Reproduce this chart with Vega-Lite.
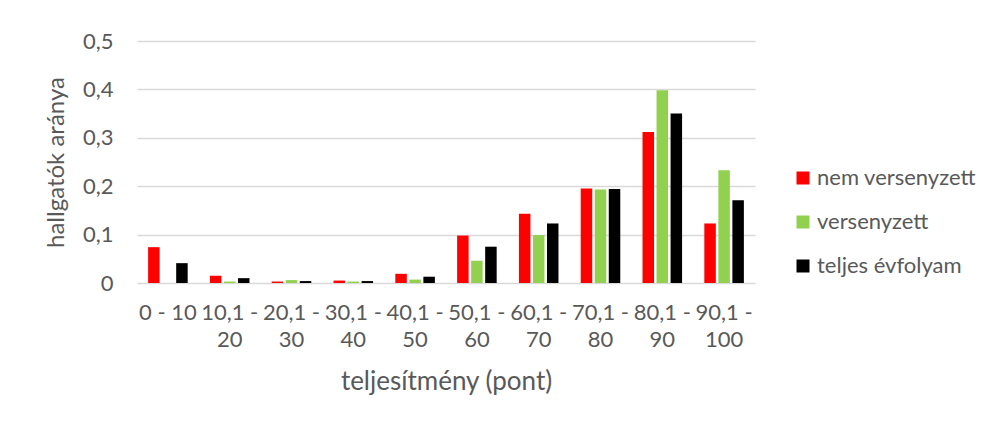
{
  "$schema": "https://vega.github.io/schema/vega-lite/v6.json",
  "autosize": {"type": "none"},
  "padding": {"left": 137, "top": 41, "right": 239, "bottom": 140},
  "width": 618,
  "height": 242,
  "background": "white",
  "config": {
    "font": "Lato",
    "view": {"stroke": null},
    "axis": {"labelColor": "#595959", "titleColor": "#595959", "labelFont": "Lato", "titleFont": "Lato", "titleFontWeight": "normal"},
    "legend": {"labelColor": "#595959", "labelFont": "Lato"}
  },
  "data": {
    "values": [
      {"kat": "0 - 10", "csoport": "nem versenyzett", "arany": 0.074},
      {"kat": "0 - 10", "csoport": "versenyzett", "arany": 0.0},
      {"kat": "0 - 10", "csoport": "teljes évfolyam", "arany": 0.041},
      {"kat": "10,1 - 20", "csoport": "nem versenyzett", "arany": 0.015},
      {"kat": "10,1 - 20", "csoport": "versenyzett", "arany": 0.003},
      {"kat": "10,1 - 20", "csoport": "teljes évfolyam", "arany": 0.010},
      {"kat": "20,1 - 30", "csoport": "nem versenyzett", "arany": 0.003},
      {"kat": "20,1 - 30", "csoport": "versenyzett", "arany": 0.006},
      {"kat": "20,1 - 30", "csoport": "teljes évfolyam", "arany": 0.004},
      {"kat": "30,1 - 40", "csoport": "nem versenyzett", "arany": 0.005},
      {"kat": "30,1 - 40", "csoport": "versenyzett", "arany": 0.003},
      {"kat": "30,1 - 40", "csoport": "teljes évfolyam", "arany": 0.004},
      {"kat": "40,1 - 50", "csoport": "nem versenyzett", "arany": 0.019},
      {"kat": "40,1 - 50", "csoport": "versenyzett", "arany": 0.007},
      {"kat": "40,1 - 50", "csoport": "teljes évfolyam", "arany": 0.013},
      {"kat": "50,1 - 60", "csoport": "nem versenyzett", "arany": 0.098},
      {"kat": "50,1 - 60", "csoport": "versenyzett", "arany": 0.046},
      {"kat": "50,1 - 60", "csoport": "teljes évfolyam", "arany": 0.075},
      {"kat": "60,1 - 70", "csoport": "nem versenyzett", "arany": 0.143},
      {"kat": "60,1 - 70", "csoport": "versenyzett", "arany": 0.099},
      {"kat": "60,1 - 70", "csoport": "teljes évfolyam", "arany": 0.123},
      {"kat": "70,1 - 80", "csoport": "nem versenyzett", "arany": 0.195},
      {"kat": "70,1 - 80", "csoport": "versenyzett", "arany": 0.193},
      {"kat": "70,1 - 80", "csoport": "teljes évfolyam", "arany": 0.194},
      {"kat": "80,1 - 90", "csoport": "nem versenyzett", "arany": 0.312},
      {"kat": "80,1 - 90", "csoport": "versenyzett", "arany": 0.398},
      {"kat": "80,1 - 90", "csoport": "teljes évfolyam", "arany": 0.350},
      {"kat": "90,1 - 100", "csoport": "nem versenyzett", "arany": 0.123},
      {"kat": "90,1 - 100", "csoport": "versenyzett", "arany": 0.233},
      {"kat": "90,1 - 100", "csoport": "teljes évfolyam", "arany": 0.171}
    ]
  },
  "mark": {"type": "bar"},
  "encoding": {
    "x": {
      "field": "kat",
      "type": "nominal",
      "sort": null,
      "scale": {"paddingInner": 0.36, "paddingOuter": 0.18},
      "axis": {
        "title": "teljesítmény (pont)",
        "titleFontSize": 26,
        "titlePadding": 18,
        "labelFontSize": 22,
        "labelAngle": 0,
        "labelPadding": 19,
        "labelLineHeight": 27,
        "labelExpr": "datum.label == '0 - 10' ? datum.label : split(replace(datum.label, ' - ', ' -|'), '|')",
        "ticks": false,
        "domain": false,
        "labelBaseline": "top"
      }
    },
    "xOffset": {
      "field": "csoport",
      "type": "nominal",
      "sort": ["nem versenyzett", "versenyzett", "teljes évfolyam"],
      "scale": {"paddingInner": 0.18, "paddingOuter": 0}
    },
    "y": {
      "field": "arany",
      "type": "quantitative",
      "scale": {"domain": [0, 0.5], "nice": false},
      "axis": {
        "title": "hallgatók aránya",
        "titleFontSize": 24,
        "titlePadding": 14,
        "labelFontSize": 22,
        "labelPadding": 24,
        "values": [0, 0.1, 0.2, 0.3, 0.4, 0.5],
        "labelExpr": "replace(format(datum.value, '.1~f'), '.', ',')",
        "ticks": false,
        "domain": false,
        "gridColor": "#d9d9d9",
        "gridWidth": 1.3
      }
    },
    "color": {
      "field": "csoport",
      "type": "nominal",
      "sort": ["nem versenyzett", "versenyzett", "teljes évfolyam"],
      "scale": {"domain": ["nem versenyzett", "versenyzett", "teljes évfolyam"], "range": ["#FF0000", "#92D050", "#000000"]},
      "legend": {
        "title": null,
        "orient": "none",
        "legendX": 655,
        "legendY": 126,
        "symbolType": "square",
        "symbolSize": 169,
        "symbolStrokeWidth": 0,
        "labelFontSize": 22,
        "labelOffset": 3,
        "rowPadding": 22
      }
    }
  }
}
